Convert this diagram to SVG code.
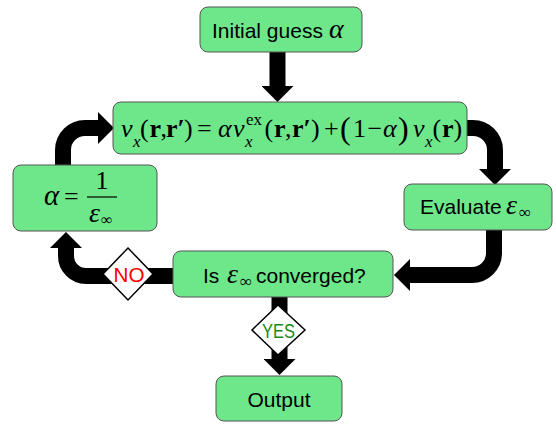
<svg xmlns="http://www.w3.org/2000/svg" width="556" height="424" viewBox="0 0 556 424">
<defs>
<style>
.box{fill:#6de78a;stroke:#555;stroke-width:1}
.t{font-family:"Liberation Sans",Arial,sans-serif;font-size:21px;fill:#000}
.m{font-family:"Liberation Serif","Times New Roman",serif;fill:#000}
.i{font-style:italic}
.b{font-weight:bold}
.c{fill:none;stroke:#000;stroke-width:16}
.dia{fill:#fff;stroke:#000;stroke-width:1.5}
</style>
<marker id="ah" markerUnits="userSpaceOnUse" markerWidth="16" markerHeight="32" refX="0" refY="16" orient="auto" viewBox="0 0 16 32">
<path d="M0,0 L16,16 L0,32 Z" fill="#000"/>
</marker>
</defs>
<g id="connectors">
<path class="c" d="M277.5,52 V86" marker-end="url(#ah)"/>
<path class="c" d="M467,128 H473 A22,22 0 0 1 495,150 V169" marker-end="url(#ah)"/>
<path class="c" d="M494,230 V253 A22,22 0 0 1 472,275 H410" marker-end="url(#ah)"/>
<path class="c" d="M173,276 H86 A20,20 0 0 1 66,256 V248" marker-end="url(#ah)"/>
<path class="c" d="M63,165 V150 A22,22 0 0 1 85,128 H98" marker-end="url(#ah)"/>
<path class="c" d="M279.5,297 V359" marker-end="url(#ah)"/>
</g>
<g id="initial">
<rect class="box" x="200" y="7" width="162" height="45" rx="8"/>
<text class="t" x="212" y="38" font-size="22">Initial guess</text>
<text class="m i" x="329" y="38" font-size="28">α</text>
</g>
<g id="update">
<rect class="box" x="113" y="102" width="354" height="52" rx="8"/>
<g class="m" font-size="26">
<text class="i" x="121" y="137">v</text>
<text class="i" x="133" y="147" font-size="17">x</text>
<text x="140" y="137">(</text>
<text class="b" x="149.5" y="137">r</text>
<text x="160.5" y="137">,</text>
<text class="b" x="166" y="137">r′</text>
<text x="184" y="137">)</text>
<text x="197" y="137">=</text>
<text class="i" x="218" y="137">α</text>
<text class="i" x="233" y="137">v</text>
<text x="246" y="125" font-size="17">ex</text>
<text class="i" x="245" y="147" font-size="17">x</text>
<text x="264.5" y="137">(</text>
<text class="b" x="274" y="137">r</text>
<text x="285" y="137">,</text>
<text class="b" x="292" y="137">r′</text>
<text x="311" y="137">)</text>
<text x="324" y="137">+</text>
<text x="340" y="139" font-size="32">(</text>
<text x="353" y="137">1</text>
<text x="367.5" y="137">−</text>
<text class="i" x="383" y="137">α</text>
<text x="398" y="139" font-size="32">)</text>
<text class="i" x="413" y="137">v</text>
<text class="i" x="425" y="147" font-size="17">x</text>
<text x="432.5" y="137">(</text>
<text class="b" x="442" y="137">r</text>
<text x="453.5" y="137">)</text>
</g>
</g>
<g id="evaluate">
<rect class="box" x="404" y="184" width="148" height="46" rx="8"/>
<text class="t" x="420" y="214">Evaluate</text>
<text class="m i" x="506" y="214" font-size="28">ε</text>
<text class="m" x="519" y="218" font-size="17">∞</text>
</g>
<g id="converged">
<rect class="box" x="173" y="251" width="220" height="46" rx="8"/>
<text class="t" x="203" y="283">Is</text>
<text class="m i" x="227" y="283" font-size="28">ε</text>
<text class="m" x="240" y="287" font-size="17">∞</text>
<text class="t" x="256" y="283">converged?</text>
</g>
<g id="alpha">
<rect class="box" x="13" y="165" width="144" height="66" rx="8"/>
<text class="m i" x="44" y="205" font-size="29">α</text>
<text class="m" x="64" y="205" font-size="26">=</text>
<line x1="87" y1="197" x2="117" y2="197" stroke="#000" stroke-width="1.2"/>
<text class="m" x="102" y="189" font-size="26" text-anchor="middle">1</text>
<text class="m i" x="89" y="222" font-size="28">ε</text>
<text class="m" x="101" y="225" font-size="16">∞</text>
</g>
<g id="no">
<polygon class="dia" points="103,274 128,248 153,274 128,300"/>
<text x="129" y="282" font-family="Liberation Sans,Arial,sans-serif" font-size="21" fill="#f00" text-anchor="middle" textLength="31" lengthAdjust="spacingAndGlyphs">NO</text>
</g>
<g id="yes">
<polygon class="dia" points="252,330 278,305 305,330 278,355"/>
<text x="278.5" y="338" font-family="Liberation Sans,Arial,sans-serif" font-size="20" fill="#1a8a1a" text-anchor="middle" textLength="33" lengthAdjust="spacingAndGlyphs">YES</text>
</g>
<g id="output">
<rect class="box" x="216" y="376" width="126" height="45" rx="8"/>
<text class="t" x="279" y="407" font-size="23" text-anchor="middle">Output</text>
</g>
</svg>
